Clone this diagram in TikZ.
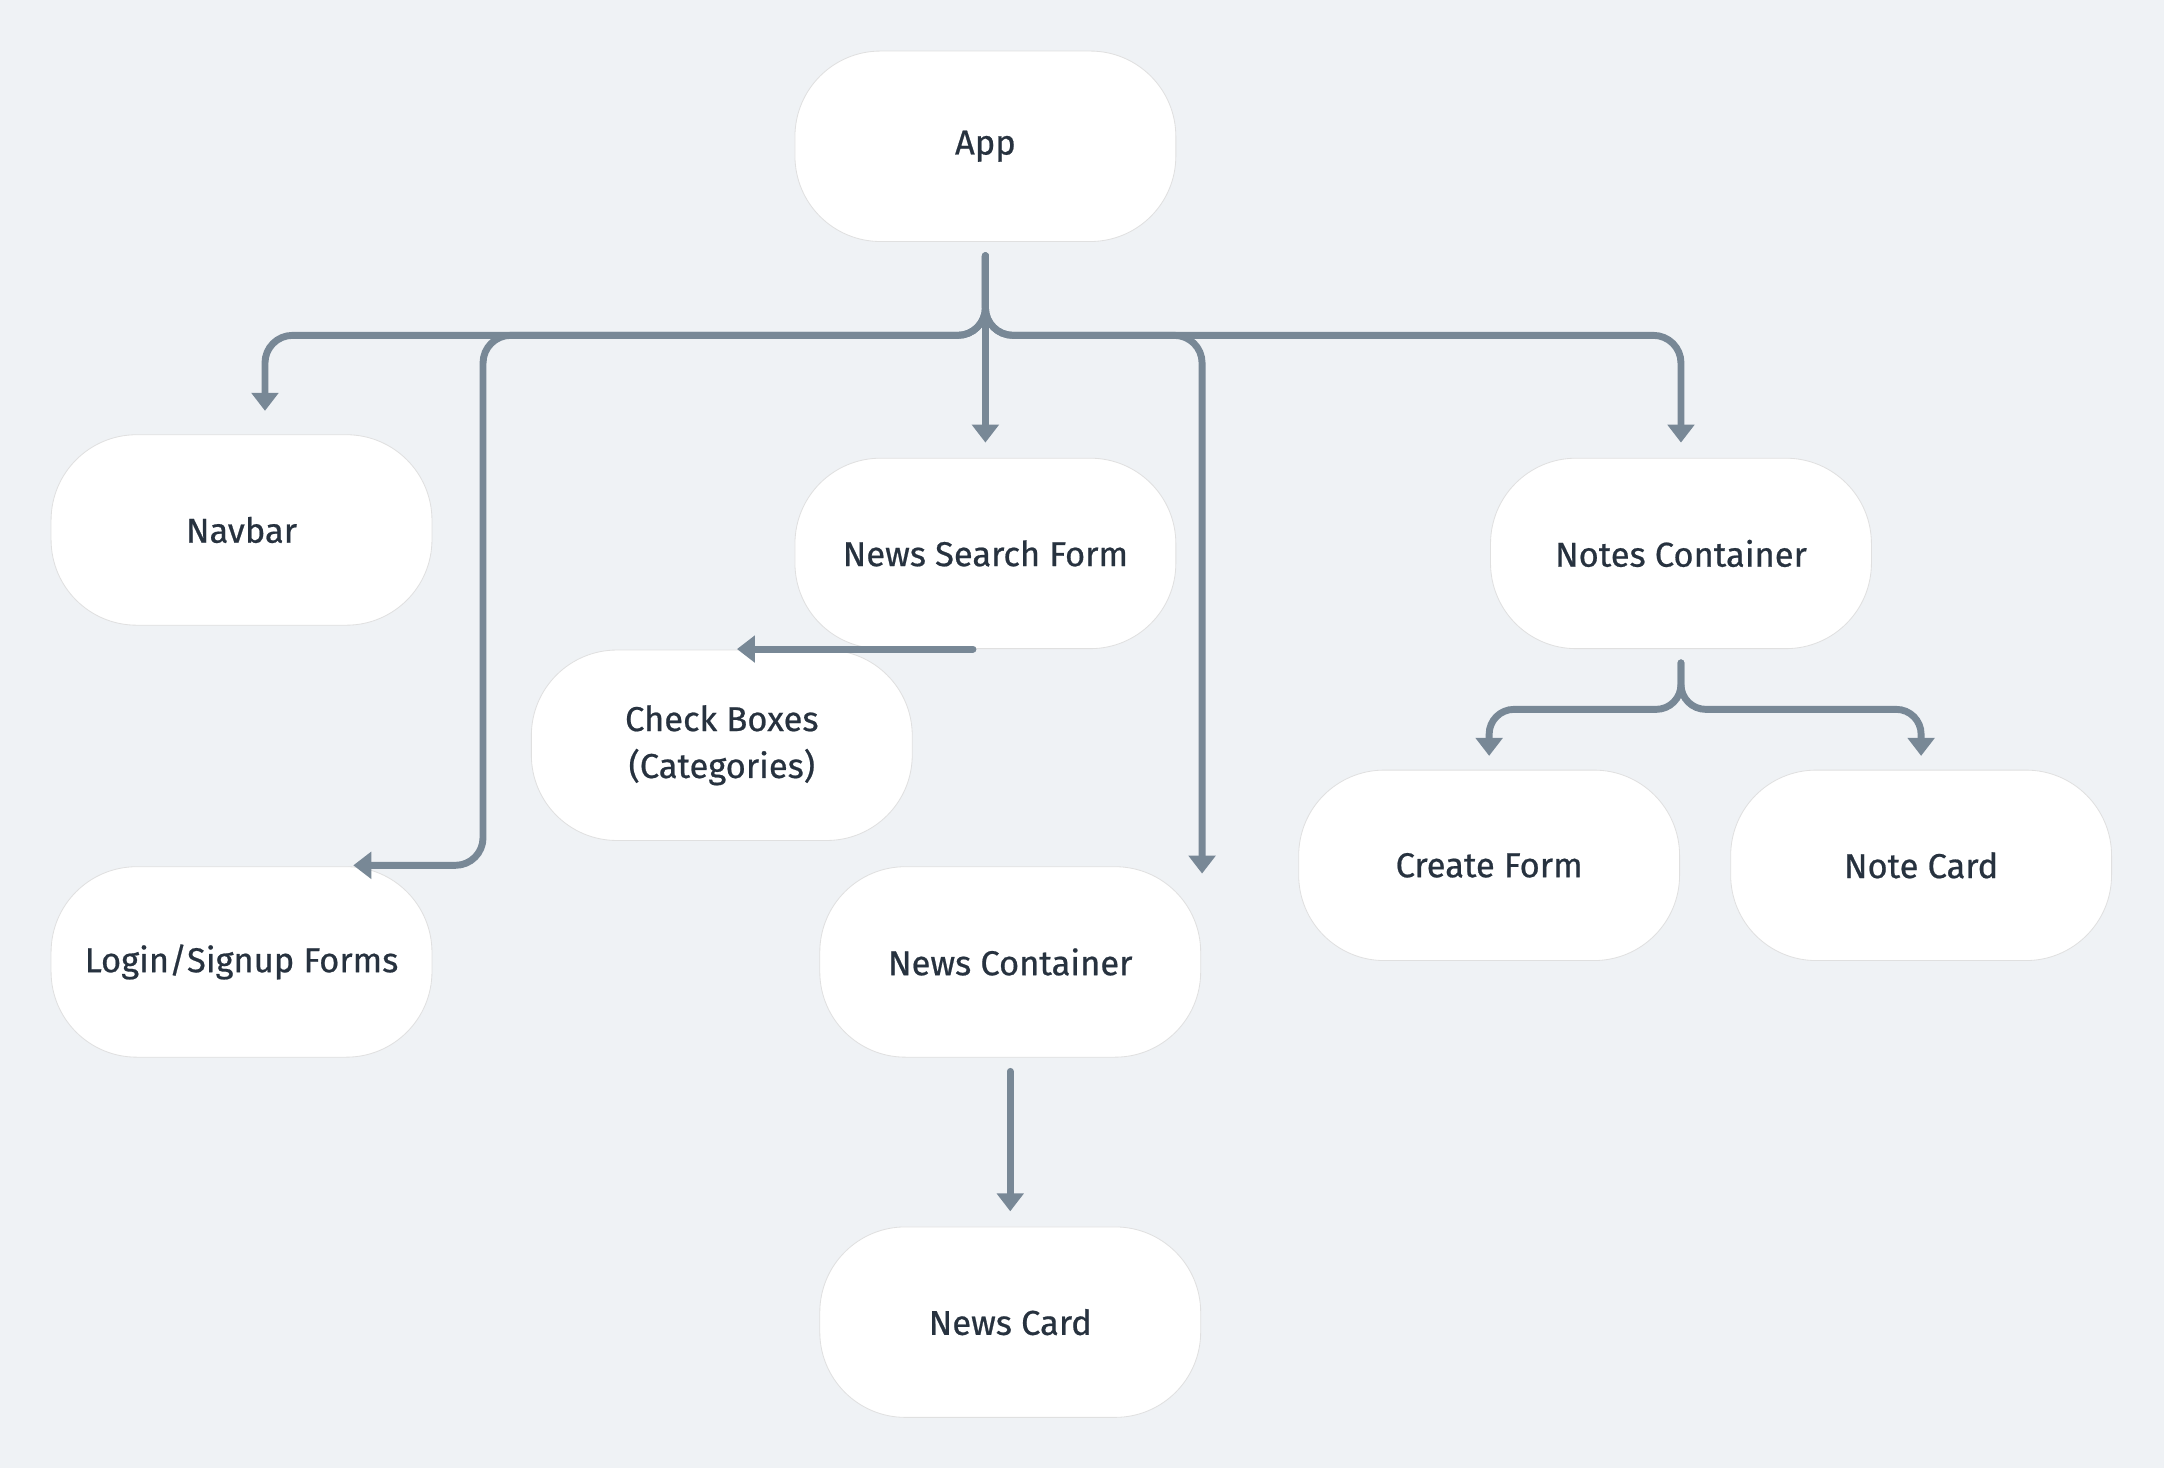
\documentclass[tikz,border=0pt]{standalone}
\usepackage{fontspec}
\setmainfont{Fira Sans}[UprightFeatures={FakeBold=0.6}]
\usetikzlibrary{arrows.meta}
\definecolor{bg}{HTML}{EFF2F5}
\definecolor{wire}{HTML}{788896}
\definecolor{txt}{HTML}{27323F}

\begin{document}
\begin{tikzpicture}[x=1pt,y=-1pt]
% STYLES
\tikzset{%
    comp/.style={%
        rectangle,rounded corners=62pt,fill=white,draw=black!12,line width=0.6pt,
        minimum width=276pt,minimum height=138pt,align=center,
        text=txt,font=\fontsize{25}{34}\selectfont
    },
    link/.style={%
        draw=wire,line width=5pt,line cap=round,rounded corners=20pt,
        -{Triangle[length=13pt,width=19pt]}
    }
}
\fill[bg] (0,0) rectangle (1568,1064);
\useasboundingbox (0,0) rectangle (1568,1064);
% Draw components
\node [comp] (app) at (714,106) {App};
\node [comp] (navbar) at (175,384) {Navbar};
\node [comp] (search) at (714,401) {News Search Form};
\node [comp] (notes) at (1218,401) {Notes Container};
\node [comp] (checkboxes) at (523,540) {Check Boxes\\(Categories)};
\node [comp] (login) at (175,697) {Login/Signup Forms};
\node [comp] (newscont) at (732,697) {News Container};
\node [comp] (createform) at (1079,627) {Create Form};
\node [comp] (notecard) at (1392,627) {Note Card};
\node [comp] (newscard) at (732,958) {News Card};
% Points on the links
\coordinate (appout) at ([yshift=-10pt]app.south);
\coordinate (trunk) at (714,243);
\coordinate (navin) at ([xshift=17pt,yshift=17pt]navbar.north);
\coordinate (loginbend) at (350,627);
\coordinate (loginin) at (256,627);
\coordinate (newsin) at (871,633);
\coordinate (searchout) at ([xshift=-9pt]search.south);
\coordinate (checkin) at ([xshift=11pt]checkboxes.north);
\coordinate (notesout) at ([yshift=-10pt]notes.south);
\coordinate (subfork) at (1218,514);
% Draw the links between components
\draw[link] (appout) -- (trunk) -| (navin);
\draw[link] (appout) -- (trunk) -| (loginbend) -- (loginin);
\draw[link] (appout) -- ([yshift=11pt]search.north);
\draw[link] (appout) -- (trunk) -| (newsin);
\draw[link] (appout) -- (trunk) -| ([yshift=11pt]notes.north);
\draw[link] (searchout) -- (checkin |- searchout);
\draw[link,rounded corners=18pt] (notesout) -- (subfork) -| ([yshift=10pt]createform.north);
\draw[link,rounded corners=18pt] (notesout) -- (subfork) -| ([yshift=10pt]notecard.north);
\draw[link] ([yshift=-10pt]newscont.south) -- ([yshift=11pt]newscard.north);
\end{tikzpicture}
\end{document}
